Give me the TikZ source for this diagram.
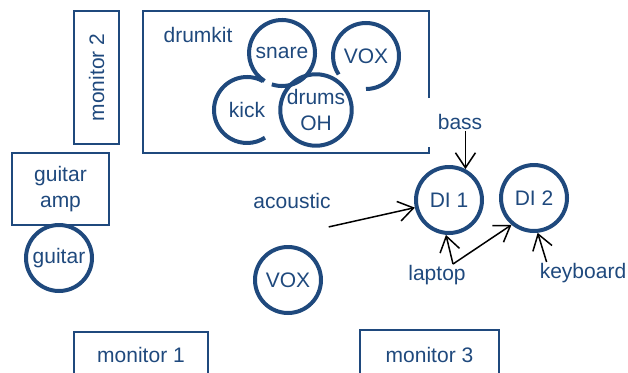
\documentclass[tikz,border=0pt]{standalone}
\usepackage{fontspec}
\setmainfont{Liberation Sans}
\usetikzlibrary{arrows.meta}
\definecolor{stageblue}{RGB}{31,73,125}
\tikzset{
	spot/.style={circle,draw=stageblue,line width=4pt,minimum size=66pt,inner sep=0pt,text=stageblue,align=center},
	openspot/.style={circle,draw=none,minimum size=66pt,inner sep=0pt,text=stageblue,align=center},
	ring/.style={draw=stageblue,line width=4pt},
	gear/.style={rectangle,draw=stageblue,line width=1.8pt,inner sep=0pt,text=stageblue,align=center},
	tag/.style={text=stageblue,inner sep=1pt},
	feed/.style={-{Straight Barb[length=15pt,width=20pt]},line width=1.5pt,black}
}

\begin{document}
\begin{tikzpicture}[x=1pt,y=-1pt,font=\fontsize{21}{26}\selectfont]
		\clip (0,0) rectangle (628,372);
		\node[gear,rotate=90,minimum width=133pt,minimum height=45pt](mon2) at (96.5,77.5){monitor 2};
		\node[gear,minimum width=97pt,minimum height=72pt](amp) at (60.5,189){guitar\\amp};
		\node[spot](guitar) at (59,258){guitar};
		% drum riser, left open on the right
		\draw[draw=stageblue,line width=1.8pt] (429,98) |- (143,11) |- (429,153) -- (429,147);
		\node[tag](kit) at (198,35){drumkit};
		\node[openspot](snare) at (282,53){snare};
		\draw[ring] ([shift={(252:33pt)}]snare.center) arc[start angle=252,end angle=598,radius=33pt];
		\node[openspot](kick) at (247,110){kick};
		\draw[ring] ([shift={(61:33pt)}]kick.center) arc[start angle=61,end angle=303,radius=33pt];
		\node[spot,text depth=-4pt](overheads) at (316,110){drums\\OH};
		\node[openspot](drumvox) at (366,56){VOX};
		\draw[ring] ([shift={(-90:33pt)}]drumvox.center) arc[start angle=-90,end angle=214,radius=33pt];
		\node[spot](vox) at (288,280){VOX};
		\node[spot](di1) at (449,200){DI 1};
		\node[spot](di2) at (534,198){DI 2};
		\node[tag](bass) at (460,122){bass};
		\node[tag](acoustic) at (292,201){acoustic};
		\node[tag](laptop) at (437,275){laptop};
		\node[tag](keyboard) at (583,273){keyboard};
		\draw[feed] (bass.south -| di1.62) -- (di1.62);
		\draw[feed] ([shift={(-3,17)}]acoustic.south east) -- (di1);
		\draw[feed] ([xshift=16pt]laptop.north) -- (di1.265);
		\draw[feed] ([xshift=16pt]laptop.north) -- (di2.230);
		\draw[feed] ([xshift=8pt]keyboard.north west) -- (di2.276);
		\node[gear,minimum width=134pt,minimum height=46pt](mon1) at (141,355){monitor 1};
		\node[gear,minimum width=139pt,minimum height=50pt](mon3) at (429.5,355){monitor 3};
	\end{tikzpicture}
\end{document}
